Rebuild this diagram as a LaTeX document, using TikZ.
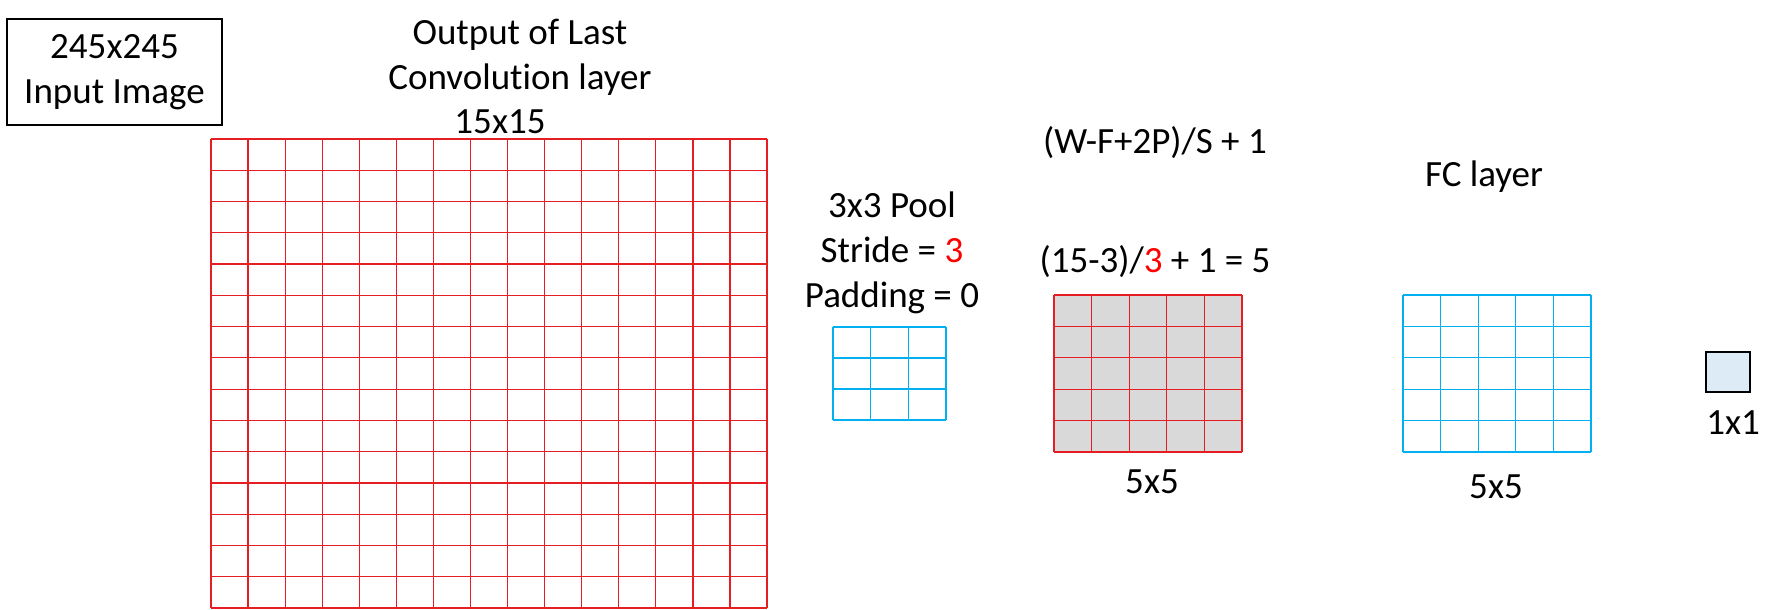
\documentclass[tikz,border=0pt]{standalone}
\usepackage{fontspec}
\setmainfont{Carlito}[Ligatures=NoCommon]
\usetikzlibrary{positioning}
\definecolor{gridred}{RGB}{230,30,35}
\definecolor{gridblue}{RGB}{0,176,240}
\definecolor{cellgray}{RGB}{217,217,217}
\definecolor{unitblue}{RGB}{221,235,247}

\begin{document}
\begin{tikzpicture}[x=0.5pt, y=-0.5pt,
    every node/.style={font=\fontsize{18.5}{22.5}\selectfont, inner sep=0pt},
    redline/.style={draw=gridred, line width=0.6pt},
    blueline/.style={draw=gridblue, line width=0.6pt}]
        \useasboundingbox (0,0) rectangle (1784,610);
        % input
        \node[draw, line width=1pt, align=center, minimum width=107.5pt, minimum height=53pt] (input) at (114.5,72) {245x245\\Input Image};
        % last convolution output, 15x15
        \node[align=center] (convtitle) at (520,57) {Output of Last\\Convolution layer};
        \node (convsize) at (500,122) {15x15};
        \foreach \i in {0,...,15} {
            \draw[redline] (211+\i*37.07,139) -- (211+\i*37.07,608);
            \draw[redline] (211,139+\i*31.27) -- (767,139+\i*31.27);
        }
        % pooling window
        \node[align=center] (pooltext) at (892,253) {3x3 Pool\\Stride = \textcolor{red}{3}\\Padding = 0};
        \foreach \i in {0,...,3} {
            \draw[blueline] (833+\i*37.67,327) -- (833+\i*37.67,420);
            \draw[blueline] (833,327+\i*31) -- (946,327+\i*31);
        }
        % pooled output
        \node (formula) at (1155,143) {(W-F+2P)/S + 1};
        \node (calc) at (1155,262) {(15-3)/\textcolor{red}{3} + 1 = 5};
        \fill[cellgray] (1054,295) rectangle (1242,452);
        \foreach \i in {0,...,5} {
            \draw[redline] (1054+\i*37.6,295) -- (1054+\i*37.6,452);
            \draw[redline] (1054,295+\i*31.4) -- (1242,295+\i*31.4);
        }
        \node (poolsize) at (1152,482) {5x5};
        % fully connected
        \node (fctitle) at (1484,177) {FC layer};
        \foreach \i in {0,...,5} {
            \draw[blueline] (1403+\i*37.6,295) -- (1403+\i*37.6,452);
            \draw[blueline] (1403,295+\i*31.4) -- (1591,295+\i*31.4);
        }
        \node (fcsize) at (1496,487) {5x5};
        \node[draw, line width=1pt, fill=unitblue, minimum width=22pt, minimum height=20pt] (unit) at (1728,372) {};
        \node (unitsize) at (1733,423) {1x1};
\end{tikzpicture}
\end{document}
